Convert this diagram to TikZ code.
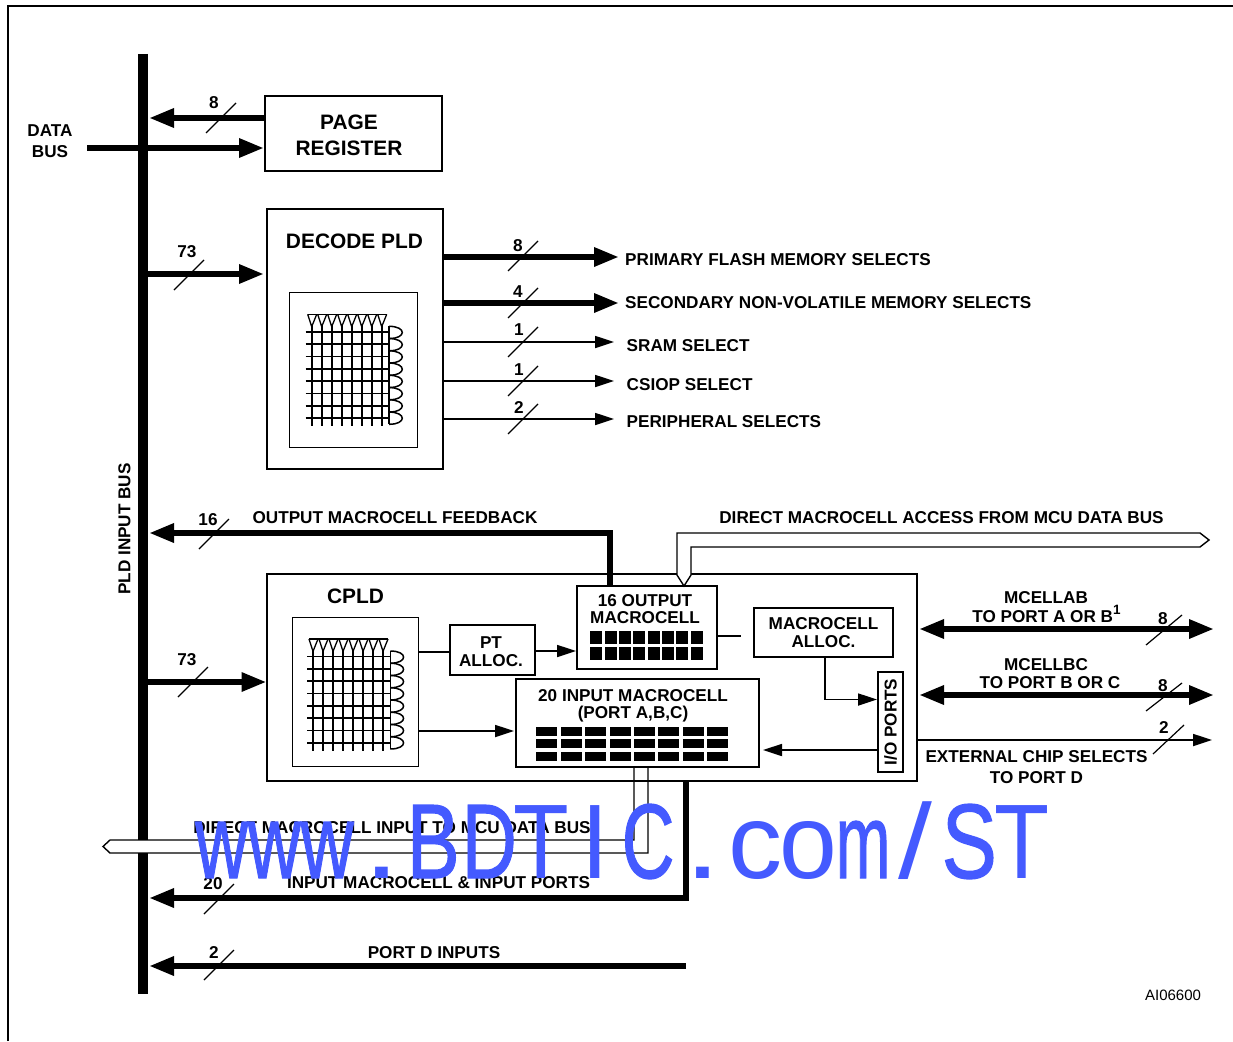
\documentclass[tikz,border=0pt]{standalone}
\usepackage{fontspec}
\usepackage{graphicx}
\setmainfont{Liberation Sans}
\newfontfamily\wmfont[FakeBold=1.2]{Liberation Sans}
\usetikzlibrary{arrows.meta,positioning,calc}
\definecolor{wmblue}{RGB}{68,90,255}
\newcommand{\wmpart}[3]{\rlap{\kern#1pt\scalebox{#2}[1]{#3}}}
\tikzset{
  box/.style={draw, line width=1.2pt, inner sep=0pt, align=center},
  gridbox/.style={draw, line width=0.9pt, inner sep=0pt},
  lbl/.style={inner sep=0pt, align=center, yshift=-1pt, font=\bfseries\fontsize{17.15}{17.5}\selectfont},
  biglbl/.style={inner sep=0pt, align=center, font=\bfseries\fontsize{20.9}{26}\selectfont},
  bus/.style={line width=6pt, shorten >=-1pt, -{Triangle[length=25pt,width=18pt]}},
  dbus/.style={line width=6pt, shorten >=-1pt, shorten <=-1pt, {Triangle[length=25pt,width=18pt]}-{Triangle[length=25pt,width=18pt]}},
  thinbus/.style={line width=1.7pt, -{Triangle[length=19pt,width=12pt]}},
  plain/.style={line width=1.7pt},
  tick/.style={line width=1.2pt},
  hollow/.style={draw, line width=1.4pt, fill=white, line join=miter},
  plagrid/.pic={
    \draw[line width=1.4pt] (0,0) -- (79,0);
    \foreach \i in {0,...,7} {
      \draw[line width=1.3pt] (10*\i,0) -- (4+10*\i,12.4) -- (9+10*\i,0);
      \draw[line width=1.7pt] (4+10*\i,12) -- (4+10*\i,112);
      \draw[line width=1.7pt] (-2,17.4+12.35*\i) -- (81.3,17.4+12.35*\i);
      \draw[line width=1.5pt] (81.3,12+12.25*\i) .. controls (99,12+12.25*\i) and (99,24.25+12.25*\i) .. (81.3,24.25+12.25*\i);
    }
    \draw[line width=1.5pt] (81.3,12) -- (81.3,110);
  }
}

\begin{document}
\begin{tikzpicture}[x=1pt, y=-1pt, >=Stealth]
  \useasboundingbox (0,0) rectangle (1233,1041);

  % Frame and input bus
  \draw[line width=2pt] (8,1041) -- (8,6) -- (1233,6);
  \coordinate (bustop) at (142.8,54);
  \coordinate (busgapa) at (142.8,840);
  \coordinate (busgapb) at (142.8,853);
  \coordinate (busend) at (142.8,994);
  \draw[line width=9.4pt] (bustop) -- (busgapa);
  \draw[line width=9.4pt] (busgapb) -- (busend);
  \node[lbl, rotate=90, yshift=1pt] (pldbus) at (125.5,528) {PLD INPUT BUS};

  % Define nodes for the boxes
  \node[box, minimum width=177pt, minimum height=75pt] (page) at (353.5,133.5) {};
  \node[biglbl] (pagetxt) at (349,135) {PAGE\\REGISTER};
  \node[box, minimum width=176pt, minimum height=260pt] (decode) at (355,339) {};
  \node[biglbl] (decodetxt) at (354.5,241) {DECODE PLD};
  \node[gridbox, minimum width=128pt, minimum height=155pt] (decgrid) at (353,369.5) {};
  \node[box, minimum width=650pt, minimum height=207pt] (cpld) at (592,677.5) {};
  \node[biglbl] (cpldtxt) at (355.5,596) {CPLD};
  \node[gridbox, minimum width=126pt, minimum height=149pt] (cplgrid) at (355,691.5) {};
  \node[box, minimum width=85pt, minimum height=50pt] (ptalloc) at (492.5,650) {};
  \node[lbl] (pttxt) at (491,650.5) {PT\\ALLOC.};
  \node[box, minimum width=140pt, minimum height=83pt] (outmc) at (647,627.5) {};
  \node[lbl] (outmctxt) at (645,608) {16 OUTPUT\\MACROCELL};
  \node[box, lbl, yshift=1pt, minimum width=139pt, minimum height=49pt] (mcalloc) at (823.5,632.5) {MACROCELL\\ALLOC.};
  \node[box, minimum width=243pt, minimum height=88pt] (inmc) at (637.5,723) {};
  \node[lbl] (inmctxt) at (633,705) {20 INPUT MACROCELL\\(PORT A,B,C)};
  \node[box, lbl, yshift=1pt, rotate=90, minimum width=100pt, minimum height=25pt] (ioports) at (890.5,722) {I/O PORTS};

  % Grids and macrocell cells
  \pic at (307.7,314.3) {plagrid};
  \pic at (309,639) {plagrid};
  \foreach \x in {590,605,619,633,648,662,676,691}
    \foreach \y in {631,647}
      \fill (\x,\y) rectangle ++(12,13);
  \foreach \x in {536,561,585,610,634,658,683,707}
    \foreach \y in {727,739,752}
      \fill (\x,\y) rectangle ++(21,9);

  % Define coordinates for the free ends
  \coordinate (pagebus) at (150,118);
  \coordinate (pageout) at (265,118);
  \coordinate (datain) at (87,148);
  \coordinate (pagein) at (263,148);
  \coordinate (busa) at (147,274);
  \coordinate (deca) at (263,274);
  \coordinate (deco1) at (443,257);
  \coordinate (dec1) at (618,257);
  \coordinate (deco2) at (443,303);
  \coordinate (dec2) at (618,303);
  \coordinate (deco3) at (443,342);
  \coordinate (dec3) at (614,342);
  \coordinate (deco4) at (443,381);
  \coordinate (dec4) at (614,381);
  \coordinate (deco5) at (443,419);
  \coordinate (dec5) at (614,419);
  \coordinate (fbstart) at (609.5,586);
  \coordinate (fbend) at (150,533);
  \coordinate (busb) at (147,682);
  \coordinate (cplin) at (265.5,682);
  \coordinate (gridr) at (418,652);
  \coordinate (gridq) at (419,731);
  \coordinate (inmcw) at (514,731);
  \coordinate (ptin) at (450,652);
  \coordinate (ptout) at (535,651);
  \coordinate (outw) at (576,651);
  \coordinate (oute) at (717,636);
  \coordinate (stub) at (741,636);
  \coordinate (allocb) at (825,657);
  \coordinate (ioa) at (877,699.5);
  \coordinate (iob) at (877,750);
  \coordinate (inmce) at (763,750);
  \coordinate (pabl) at (920,629);
  \coordinate (pabr) at (1213,629);
  \coordinate (pbcl) at (920,695);
  \coordinate (pbcr) at (1213,695);
  \coordinate (csl) at (917,740);
  \coordinate (csr) at (1212,740);
  \coordinate (inmacstart) at (685.7,781);
  \coordinate (inmacend) at (150,898);
  \coordinate (portdstart) at (686,966);
  \coordinate (portdend) at (150,966);

  % Draw arrows between nodes
  \draw[bus] (pageout) -- (pagebus);
  \draw[bus] (datain) -- (pagein);
  \draw[bus] (busa) -- (deca);
  \draw[bus] (deco1) -- (dec1);
  \draw[bus] (deco2) -- (dec2);
  \draw[thinbus] (deco3) -- (dec3);
  \draw[thinbus] (deco4) -- (dec4);
  \draw[thinbus] (deco5) -- (dec5);
  \draw[bus] (fbstart) |- (fbend);
  \draw[bus] (busb) -- (cplin);
  \draw[plain] (gridr) -- (ptin);
  \draw[thinbus] (gridq) -- (inmcw);
  \draw[thinbus] (ptout) -- (outw);
  \draw[plain] (oute) -- (stub);
  \draw[thinbus] (allocb) |- (ioa);
  \draw[thinbus] (iob) -- (inmce);
  \draw[dbus] (pabl) -- (pabr);
  \draw[dbus] (pbcl) -- (pbcr);
  \draw[thinbus] (csl) -- (csr);
  \draw[bus] (inmacstart) |- (inmacend);
  \draw[bus] (portdstart) -- (portdend);

  % Hollow data buses
  \draw[hollow] (684,586) -- (677,575) -- (677,533) -- (1200,533) -- (1209,540) -- (1200,547) -- (691,547) -- (691,575) -- cycle;
  \draw[line width=1.4pt] (634,767) -- (634,840) -- (110,840) -- (103,846.5) -- (110,853) -- (648,853) -- (648,767);

  % Bus width marks
  \foreach \x/\y/\w/\h in {221/118/15/15, 189/275/15/15, 523/256/15/15, 523/303/15/15, 523/342/15/15, 523/381/15/15, 523/419/15/15,
                     214/534/15/15, 193/682/15/15, 219/899/15/15, 219/965/15/15, 1164/630/18/15, 1164/697/18/14, 1168.5/739.5/15.5/14.5}
    \draw[tick] (\x-\w,\y+\h) -- (\x+\w,\y-\h);

  % Labels
  \node[lbl] (n8a) at (214,102) {8};
  \node[lbl, font=\bfseries\fontsize{17.15}{21}\selectfont] (dbus) at (50,140) {DATA\\BUS};
  \node[lbl] (n73a) at (187,251) {73};
  \node[lbl] (n8b) at (518,245) {8};
  \node[lbl] (n4) at (518,291) {4};
  \node[lbl] (n1a) at (519,329) {1};
  \node[lbl] (n1b) at (519,369) {1};
  \node[lbl] (n2a) at (519,407) {2};
  \node[lbl, anchor=west] (flash) at (625,259) {PRIMARY FLASH MEMORY SELECTS};
  \node[lbl, anchor=west] (nonvol) at (625,302) {SECONDARY NON-VOLATILE MEMORY SELECTS};
  \node[lbl, anchor=west] (sram) at (626.5,345) {SRAM SELECT};
  \node[lbl, anchor=west] (csiop) at (626.5,384) {CSIOP SELECT};
  \node[lbl, anchor=west] (periph) at (626.5,421) {PERIPHERAL SELECTS};
  \node[lbl] (n16) at (208,519) {16};
  \node[lbl] (feedback) at (395,517) {OUTPUT MACROCELL FEEDBACK};
  \node[lbl] (access) at (941.5,517) {DIRECT MACROCELL ACCESS FROM MCU DATA BUS};
  \node[lbl] (n73b) at (187,659) {73};
  \node[lbl] (mcab) at (1046,597) {MCELLAB};
  \node[lbl] (portab) at (1046.5,613) {TO PORT A OR B\raisebox{0.42em}{\fontsize{13.5}{13.5}\selectfont 1}};
  \node[lbl] (n8c) at (1163,618) {8};
  \node[lbl] (mcbc) at (1046,664) {MCELLBC};
  \node[lbl] (portbc) at (1050,681.5) {TO PORT B OR C};
  \node[lbl] (n8d) at (1163,685) {8};
  \node[lbl] (n2b) at (1164,727) {2};
  \node[lbl, font=\bfseries\fontsize{17.15}{21}\selectfont] (extcs) at (1036.5,766.5) {EXTERNAL CHIP SELECTS\\TO PORT D};
  \node[lbl] (mcuin) at (392,827) {DIRECT MACROCELL INPUT TO MCU DATA BUS};
  \node[lbl] (n20) at (213,883) {20};
  \node[lbl] (inports) at (438.5,882) {INPUT MACROCELL \& INPUT PORTS};
  \node[lbl] (n2c) at (214,951) {2};
  \node[lbl] (portd) at (434,952) {PORT D INPUTS};
  \node[inner sep=0pt, font=\fontsize{15}{15}\selectfont] (code) at (1173,995) {AI06600};

  % Overprinted web address
  \node[inner sep=0pt, anchor=base west, text=wmblue, font=\fontsize{106}{106}\selectfont] (www) at (190,878)
    {\wmpart{4.5}{.69}{\wmfont www}\wmpart{173}{1.25}{.}\wmpart{216}{.75}{\wmfont B}\wmpart{271}{.72}{\wmfont D}\wmpart{323}{.86}{T}\wmpart{391}{.93}{I}\wmpart{431}{.69}{\wmfont C}\wmpart{494}{1.25}{.}\wmpart{538}{1.02}{c}\wmpart{589}{.98}{o}\wmpart{645}{.62}{\wmfont m}\wmpart{708}{1.15}{/}\wmpart{751}{.78}{\wmfont S}\wmpart{804}{.85}{T}};

\end{tikzpicture}
\end{document}
